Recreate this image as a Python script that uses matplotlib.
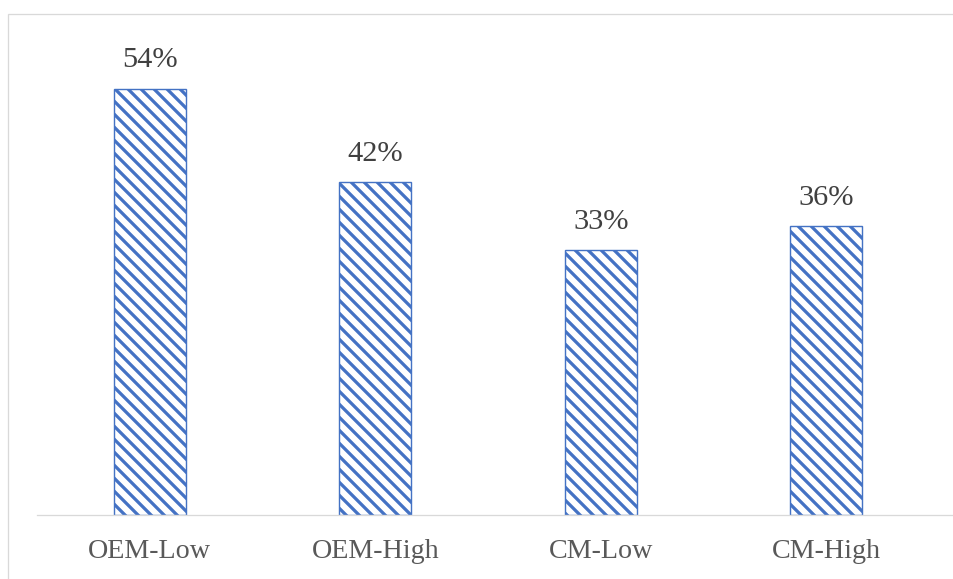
import matplotlib.pyplot as plt
from matplotlib.patches import Rectangle

categories = ["OEM-Low", "OEM-High", "CM-Low", "CM-High"]
values = [53.8, 42.0, 33.4, 36.4]

DPI = 78
W, H = 954, 579
blue = "#4472C4"
plt.rcParams["font.family"] = ["Liberation Serif", "DejaVu Serif"]
plt.rcParams["hatch.linewidth"] = 3.0
plt.rcParams["hatch.color"] = blue

fig = plt.figure(figsize=(W / DPI, H / DPI), dpi=DPI)
# chart area border (partly cropped in the original)
fig.patches.append(Rectangle((8 / W, -0.1), 1.2, 1 - 14 / H + 0.1, transform=fig.transFigure,
                             fill=False, edgecolor="#d9d9d9", linewidth=1.2))

ax = fig.add_axes([37 / W, 1 - 515 / H, (954 - 37) / W, (515 - 14) / H])
x = range(len(categories))
bars = ax.bar(x, values, width=0.32, color="white", edgecolor=blue, hatch="\\\\", linewidth=1.3)
ax.set_xlim(-0.5, 3.5 + 15 / 225.5)
ax.set_ylim(0, 63.2)

for b, v in zip(bars, values):
    ax.annotate(f"{v:.0f}%", (b.get_x() + b.get_width() / 2, v), xytext=(0, 14),
                textcoords="offset points", ha="center", va="bottom",
                fontsize=28, color="#404040")

ax.set_xticks(list(x))
ax.set_xticklabels(categories, fontsize=26, color="#595959")
ax.tick_params(axis="x", length=0, pad=22)
ax.set_yticks([])
for s in ["top", "right", "left"]:
    ax.spines[s].set_visible(False)
ax.spines["bottom"].set_color("#d9d9d9")
ax.spines["bottom"].set_linewidth(1.2)

fig.savefig("out.png", dpi=DPI)
